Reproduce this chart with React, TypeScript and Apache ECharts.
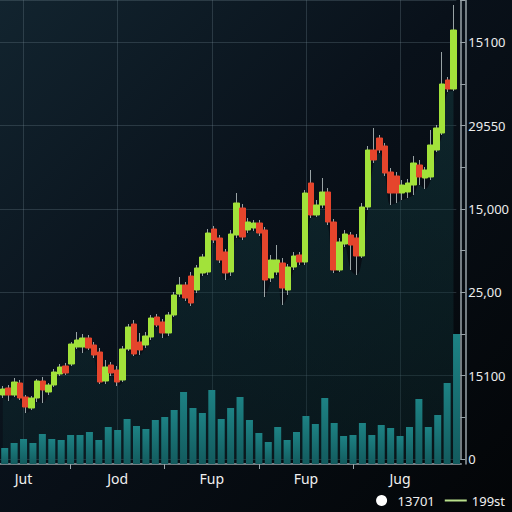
import React, { useEffect, useRef } from 'react';
import * as echarts from 'echarts';

// candles: [open, close, lowest, highest]
const candleData: number[][] = [
  [768, 840, 732, 876], [852, 768, 696, 888], [768, 924, 744, 972], [912, 732, 708, 948],
  [744, 624, 552, 768], [612, 732, 588, 756], [732, 936, 684, 960], [936, 828, 672, 984],
  [804, 888, 768, 912], [888, 1044, 864, 1080], [1020, 1104, 996, 1140], [1116, 1032, 1008, 1152],
  [1140, 1380, 1116, 1404], [1344, 1428, 1320, 1524], [1344, 1452, 1272, 1500], [1452, 1332, 1308, 1488],
  [1368, 1248, 1212, 1404], [1284, 924, 900, 1332], [936, 1104, 900, 1188], [1128, 1032, 996, 1164],
  [1068, 924, 876, 1116], [948, 1320, 924, 1356], [1320, 1584, 1296, 1620], [1620, 1260, 1236, 1668],
  [1404, 1308, 1248, 1512], [1368, 1476, 1332, 1524], [1464, 1692, 1428, 1728], [1704, 1608, 1584, 1740],
  [1644, 1512, 1452, 1680], [1512, 1728, 1476, 1764], [1728, 1968, 1704, 2004], [1980, 2088, 1944, 2184],
  [2088, 1932, 1896, 2124], [2196, 1872, 1836, 2244], [2028, 2292, 1992, 2328], [2232, 2424, 2196, 2460],
  [2244, 2712, 2208, 2760], [2760, 2628, 2592, 2796], [2652, 2388, 2352, 2688], [2484, 2232, 2148, 2520],
  [2244, 2700, 2196, 2748], [2688, 3072, 2652, 3192], [3012, 2664, 2628, 3060], [2748, 2844, 2712, 2892],
  [2772, 2832, 2736, 2868], [2832, 2712, 2676, 2868], [2748, 2148, 1944, 2784], [2172, 2388, 2124, 2448],
  [2244, 2388, 2208, 2568], [2352, 2052, 1848, 2412], [2028, 2304, 1968, 2340], [2304, 2436, 2268, 2484],
  [2448, 2364, 2328, 2484], [2364, 3192, 2328, 3228], [3312, 2928, 2892, 3468], [2928, 3048, 2904, 3108],
  [3048, 3204, 3012, 3372], [3204, 2844, 2808, 3252], [2844, 2268, 2232, 2880], [2268, 2604, 2244, 2652],
  [2580, 2700, 2544, 2748], [2688, 2568, 2268, 2724], [2652, 2436, 2208, 2700], [2436, 3024, 2412, 3072],
  [3024, 3708, 2988, 3756], [3708, 3588, 3552, 3972], [3852, 3708, 3672, 3888], [3756, 3432, 3396, 3792],
  [3444, 3192, 3048, 3492], [3396, 3192, 3072, 3444], [3192, 3288, 3108, 3348], [3204, 3312, 3132, 3360],
  [3288, 3552, 3168, 3636], [3528, 3384, 3288, 3588], [3372, 3468, 3240, 3504], [3384, 3768, 3348, 3948],
  [3708, 3972, 3684, 4008], [3912, 4500, 3888, 4884], [4548, 4440, 4404, 4584], [4440, 5148, 4416, 5448],
];

const volumeData: number[] = [
  160, 210, 250, 210, 300, 250, 240, 290, 290, 320, 240, 370, 340, 450, 380, 350, 440,
  470, 540, 720, 560, 510, 740, 450, 560, 670, 440, 310, 220, 370, 240, 320, 480, 400,
  660, 410, 280, 290, 410, 290, 390, 360, 280, 370, 650, 370, 490, 810, 1300,
];

const xCategories: string[] = volumeData.map(() => '');
xCategories[2] = 'Jut';
xCategories[12] = 'Jod';
xCategories[22] = 'Fup';
xCategories[32] = 'Fup';
xCategories[42] = 'Jug';

const xTickIndices = [7, 17, 27, 37];
const xGridIndices = [2, 12, 22, 32, 42];
const yTickLabels = ['0', '15100', '25,00', '15,000', '29550', '15100'];
const legendNames = ['13701', '199st'];

export default function App() {
  const ref = useRef<HTMLDivElement>(null);
  useEffect(() => {
    const chart = echarts.init(ref.current!, null, { renderer: 'svg' });
    const candleCats = candleData.map((_, i) => String(i));
    const lows = candleData.map((d) => d[2]);
    const bodies = candleData.map(([o, c]) => [o, c, Math.min(o, c), Math.max(o, c)]);
    const axisColor = '#9aa4aa';
    const gridLine = 'rgba(120,140,150,0.28)';
    const green = '#a2e23a';
    const red = '#e5452c';
    const legendGreen = '#b9e08c';

    chart.setOption({
      animation: false,
      backgroundColor: new echarts.graphic.LinearGradient(0, 0, 1, 1, [
        { offset: 0, color: '#12242f' },
        { offset: 0.45, color: '#09111a' },
        { offset: 1, color: '#030507' },
      ]),
      textStyle: { fontFamily: 'Noto Sans' },
      legend: {
        data: [
          {
            name: legendNames[0],
            icon: 'circle',
            itemStyle: { color: '#ffffff', borderColor: '#ffffff', borderWidth: 0 },
          },
          {
            name: legendNames[1],
            icon: 'path://M0,0H22V2H0Z',
            itemStyle: { color: legendGreen, borderColor: legendGreen, borderWidth: 0 },
          },
        ],
        padding: 0,
        right: 7,
        top: 494,
        itemWidth: 22,
        itemHeight: 11,
        itemGap: 10,
        textStyle: { color: '#f0f0f0', fontSize: 13, fontFamily: 'Noto Sans' },
      },
      grid: [
        { left: -4.25, width: 465.5, top: 0, height: 459 },
        { left: -4.25, width: 465.5, top: 0, height: 464 },
      ],
      xAxis: [
        {
          type: 'category',
          gridIndex: 1,
          data: xCategories,
          boundaryGap: true,
          axisLine: { show: true, lineStyle: { color: axisColor, width: 1.5 } },
          axisTick: {
            show: true,
            alignWithLabel: true,
            length: 5,
            interval: (i: number) => xTickIndices.includes(i),
            lineStyle: { color: axisColor },
          },
          axisLabel: {
            interval: 0,
            color: '#f0f0f0',
            fontSize: 14,
            margin: 7,
            fontFamily: 'Noto Sans',
          },
          splitLine: {
            show: true,
            alignWithLabel: true,
            interval: (i: number) => xGridIndices.includes(i),
            lineStyle: { color: gridLine, width: 1 },
          },
        },
        {
          type: 'category',
          gridIndex: 0,
          data: candleCats,
          boundaryGap: true,
          show: false,
        },
      ],
      yAxis: [
        {
          type: 'value',
          gridIndex: 0,
          position: 'right',
          offset: 4,
          min: 0,
          max: 5508,
          interval: 1000,
          axisLine: { show: true, lineStyle: { color: axisColor, width: 1.5 } },
          axisTick: { show: true, length: 5, lineStyle: { color: axisColor } },
          minorTick: { show: true, splitNumber: 2, length: 5, lineStyle: { color: axisColor } },
          axisLabel: {
            color: '#ececec',
            fontSize: 13,
            margin: 8,
            showMaxLabel: false,
            fontFamily: 'Noto Sans',
            formatter: (v: number) =>
              v % 1000 === 0 ? yTickLabels[Math.round(v / 1000)] ?? '' : '',
          },
          splitLine: { show: true, lineStyle: { color: gridLine, width: 1 } },
        },
        {
          type: 'value',
          gridIndex: 1,
          position: 'right',
          offset: 4,
          min: 0,
          max: 4640,
          axisLine: { show: true, lineStyle: { color: axisColor, width: 1.5 } },
          axisTick: { show: false },
          axisLabel: { show: false },
          splitLine: { show: false },
        },
      ],
      series: [
        {
          name: 'area',
          type: 'line',
          xAxisIndex: 1,
          yAxisIndex: 0,
          data: lows,
          smooth: 0.4,
          showSymbol: false,
          symbol: 'none',
          lineStyle: { width: 0 },
          areaStyle: {
            color: new echarts.graphic.LinearGradient(0, 0, 0, 1, [
              { offset: 0, color: 'rgba(22,68,72,0.6)' },
              { offset: 1, color: 'rgba(14,46,50,0.5)' },
            ]),
          },
          z: 1,
          silent: true,
        },
        {
          name: 'volume',
          type: 'bar',
          xAxisIndex: 0,
          yAxisIndex: 1,
          data: volumeData,
          barWidth: 7,
          itemStyle: {
            color: new echarts.graphic.LinearGradient(0, 0, 0, 1, [
              { offset: 0, color: '#1d8284' },
              { offset: 1, color: '#135b5e' },
            ]),
          },
          z: 2,
        },
        {
          name: 'wicks',
          type: 'candlestick',
          xAxisIndex: 1,
          yAxisIndex: 0,
          data: candleData,
          barWidth: 1,
          itemStyle: {
            color: 'rgba(190,200,200,0.8)',
            color0: 'rgba(190,200,200,0.8)',
            borderColor: 'rgba(190,200,200,0.8)',
            borderColor0: 'rgba(190,200,200,0.8)',
            borderWidth: 1,
          },
          z: 3,
        },
        {
          name: legendNames[0],
          type: 'candlestick',
          xAxisIndex: 1,
          yAxisIndex: 0,
          data: bodies,
          barWidth: 6,
          itemStyle: {
            color: green,
            color0: red,
            borderColor: green,
            borderColor0: red,
            borderWidth: 1,
          },
          z: 4,
        },
        {
          name: legendNames[1],
          type: 'line',
          xAxisIndex: 1,
          yAxisIndex: 0,
          data: [],
          symbol: 'none',
          itemStyle: { color: legendGreen },
          lineStyle: { color: legendGreen, width: 2 },
        },
      ],
    });
    return () => chart.dispose();
  }, []);
  return (
    <div
      ref={ref}
      style={{ position: 'fixed', left: 0, top: 0, width: 512, height: 512, background: '#05080a' }}
    />
  );
}
